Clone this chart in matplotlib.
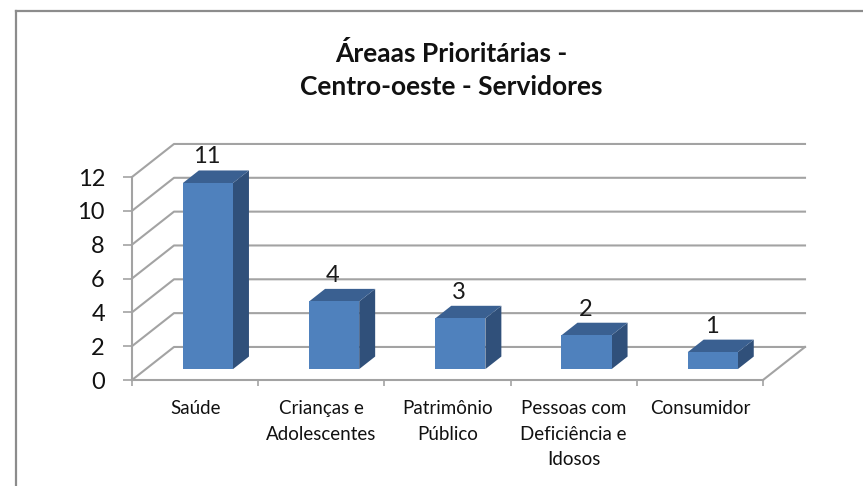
import matplotlib
matplotlib.use('Agg')
import matplotlib.pyplot as plt
from matplotlib.patches import Polygon

plt.rcParams['font.family'] = ['Lato', 'DejaVu Sans']

categorias = ['Saúde', 'Crianças e\nAdolescentes', 'Patrimônio\nPúblico',
              'Pessoas com\nDeficiência e\nIdosos', 'Consumidor']
valores = [11, 4, 3, 2, 1]
ticks_y = [0, 2, 4, 6, 8, 10, 12]
titulo = 'Áreaas Prioritárias -\nCentro-oeste - Servidores'

W, H = 863, 486
# fake 3d: depth goes up and to the right, in axis units
DX = 42 / 126.2
DY = 33 / 16.9
LARG = 0.397
D0, D1 = 0.33, 0.71
CENTRO = 0.492

cor_grade = '#a3a3a3'


def proj(x, y, d):
    return (x + d * DX, y + d * DY)


fig = plt.figure(figsize=(W / 100, H / 100), dpi=100)
ax = fig.add_axes([132 / W, (H - 380) / H, 631 / W, 203 / H])
ax.set_xlim(0, 5)
ax.set_ylim(0, 12)
ax.patch.set_visible(False)

# grid on the back wall and lines on the side wall
for v in ticks_y:
    ax.plot(*zip(proj(0, v, 0), proj(0, v, 1), proj(5, v, 1)), color=cor_grade,
            lw=1.5, clip_on=False, zorder=1)
ax.plot(*zip(proj(5, 0, 0), proj(5, 0, 1)), color=cor_grade, lw=1.5, clip_on=False, zorder=1)

# bars
for i, v in enumerate(valores):
    x0 = i + CENTRO - LARG / 2
    x1 = i + CENTRO + LARG / 2
    frente = [proj(x0, 0, D0), proj(x1, 0, D0), proj(x1, v, D0), proj(x0, v, D0)]
    lado = [proj(x1, 0, D0), proj(x1, 0, D1), proj(x1, v, D1), proj(x1, v, D0)]
    topo = [proj(x0, v, D0), proj(x1, v, D0), proj(x1, v, D1), proj(x0, v, D1)]
    ax.add_patch(Polygon(lado, fc='#30507a', ec='none', clip_on=False, zorder=3))
    ax.add_patch(Polygon(topo, fc='#3a6091', ec='none', clip_on=False, zorder=3))
    ax.add_patch(Polygon(frente, fc='#4f81bd', ec='none', clip_on=False, zorder=4))
    tx, ty = proj(i + 0.5, v, (D0 + D1) / 2)
    ax.text(tx - 0.08, ty + 0.55, str(v), ha='center', va='bottom', fontsize=17,
            color='#1a1a1a', zorder=5, clip_on=False)

for s in ['top', 'right']:
    ax.spines[s].set_visible(False)
for s in ['left', 'bottom']:
    ax.spines[s].set_color(cor_grade)
    ax.spines[s].set_linewidth(1.5)

ax.set_xticks(range(6))
ax.set_xticklabels([])
ax.set_yticks(ticks_y)
ax.tick_params(axis='x', color=cor_grade, width=1.2, length=4)
ax.tick_params(axis='y', color=cor_grade, width=1.2, length=6.5, labelsize=17, pad=13,
               labelcolor='#111111')

for i, c in enumerate(categorias):
    ax.annotate(c, (i + 0.5, 0), xytext=(0, -14.5), textcoords='offset points',
                ha='center', va='top', fontsize=13.5, color='#111111', linespacing=1.6)

fig.text(451 / W, 1 - 70 / H, titulo, ha='center', va='center', fontsize=19,
         fontweight='bold', color='#111111', linespacing=1.42)

# chart frame, cut off by the picture on the right
cor_borda = '#8c8c8c'
fig.add_artist(plt.Line2D([16 / W, 16 / W], [0, 1 - 11 / H], color=cor_borda, lw=1.6))
fig.add_artist(plt.Line2D([16 / W, 1], [1 - 11 / H, 1 - 11 / H], color=cor_borda, lw=1.6))

fig.savefig('out.png', dpi=100)
